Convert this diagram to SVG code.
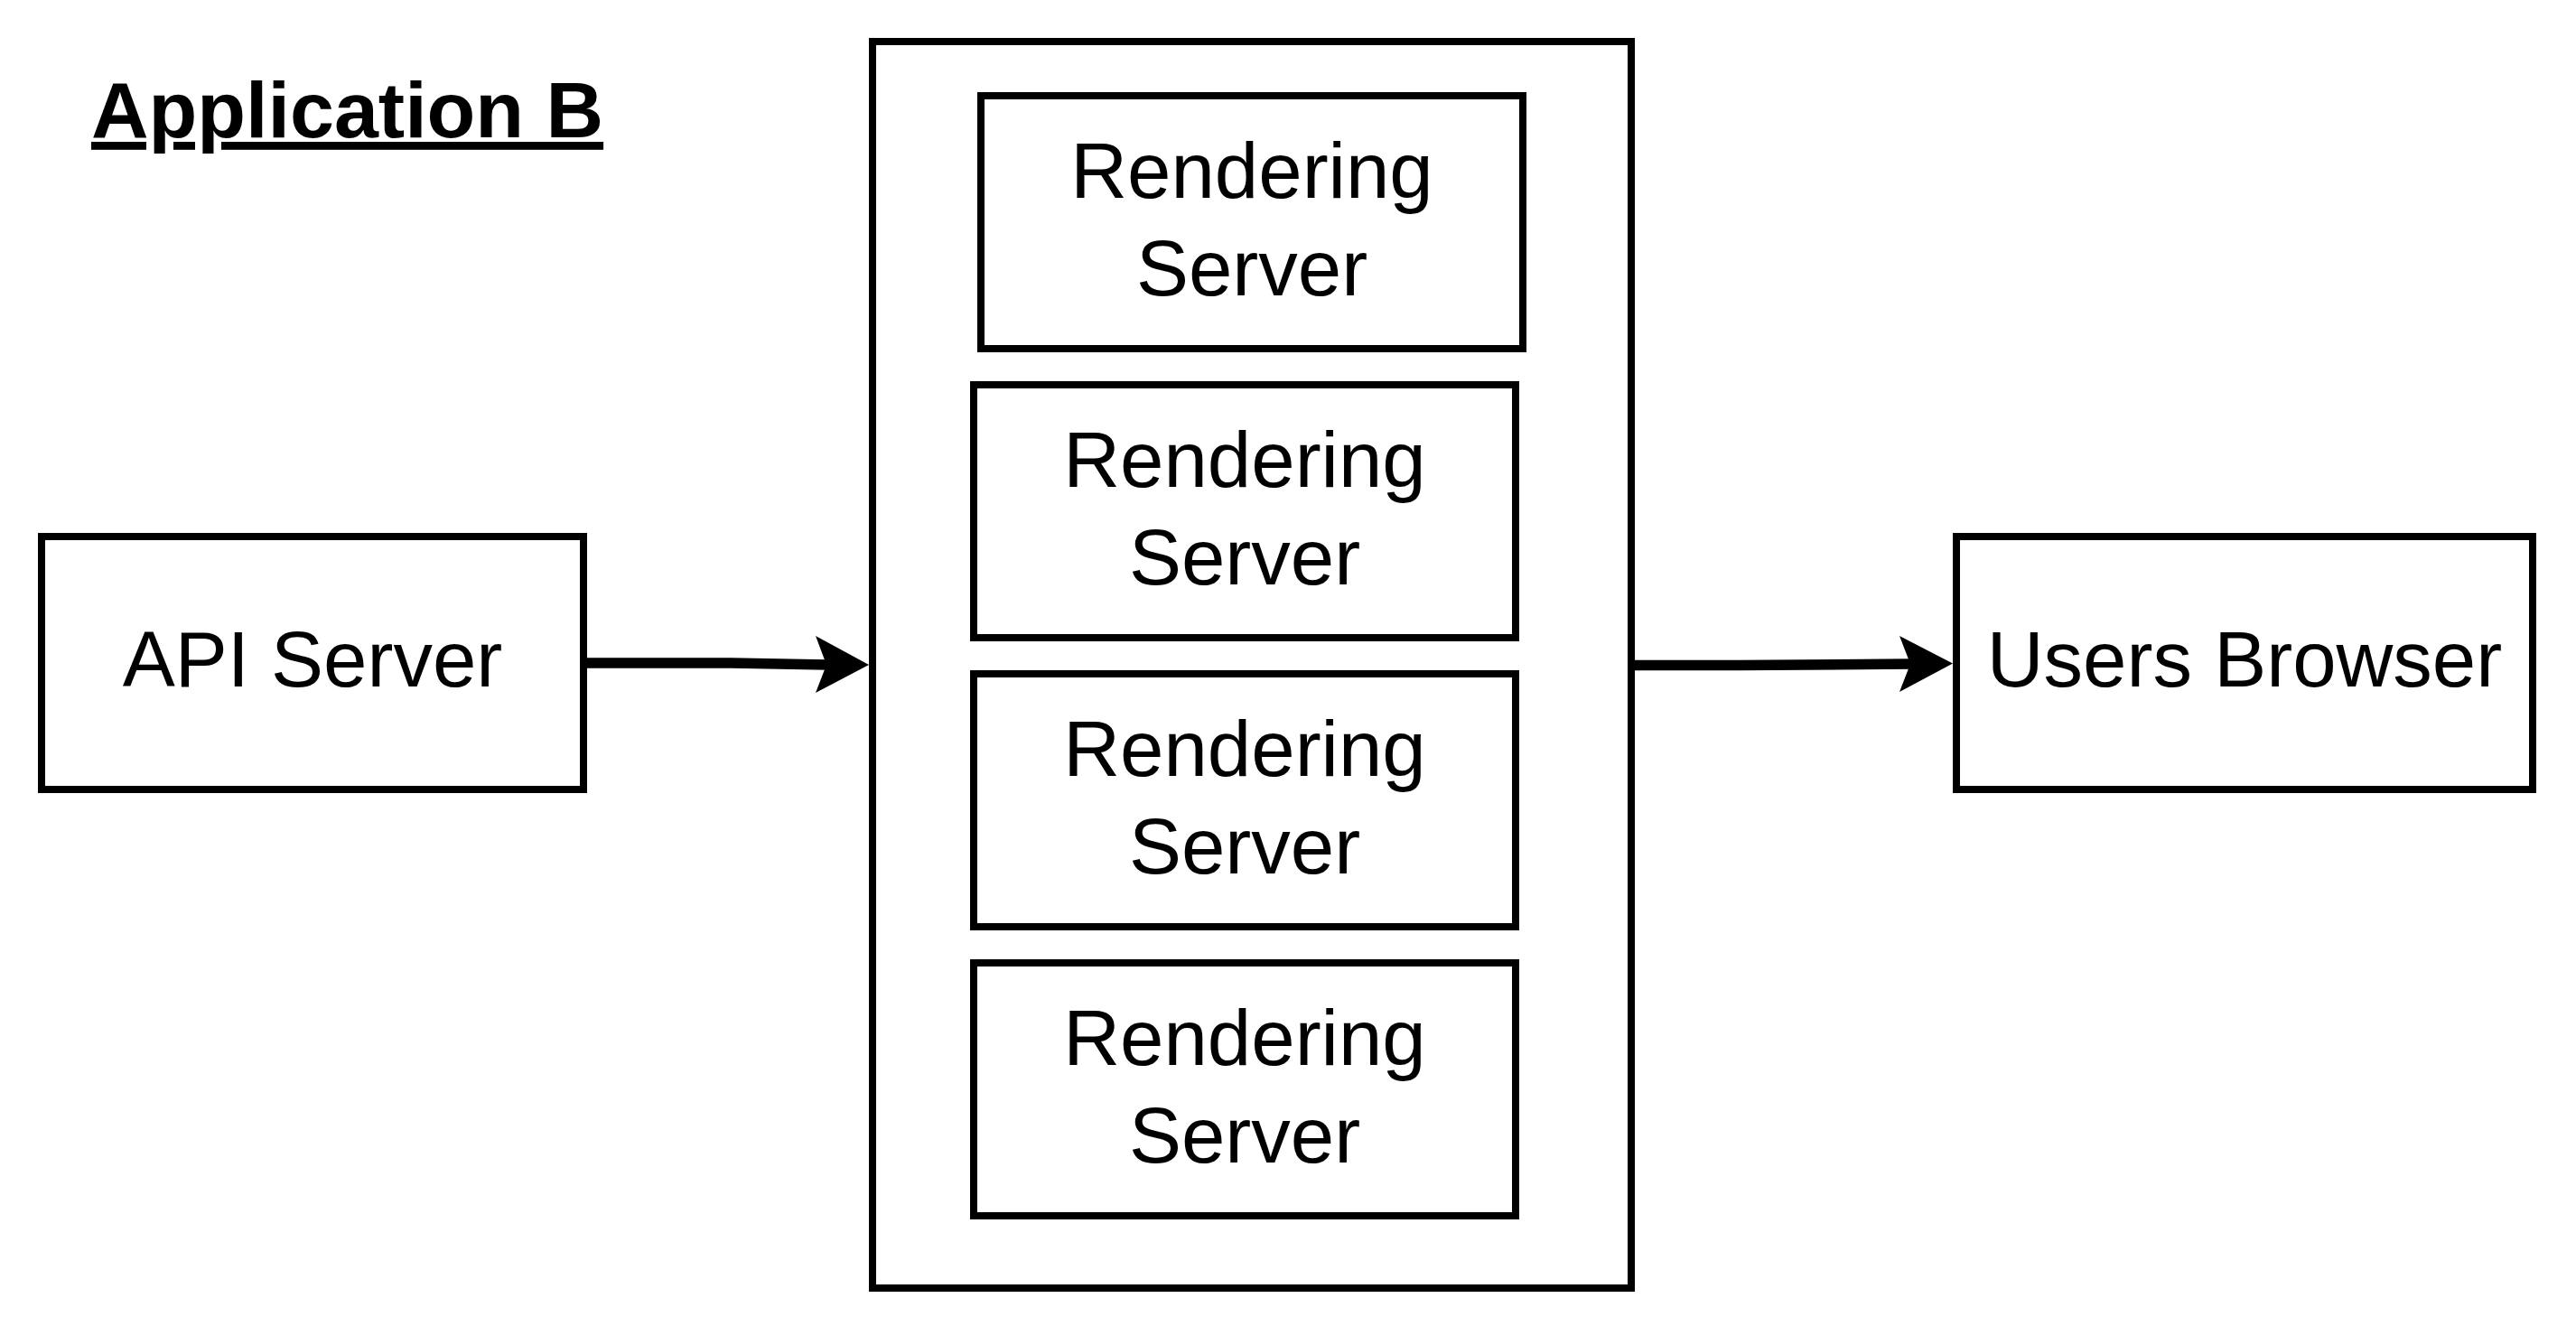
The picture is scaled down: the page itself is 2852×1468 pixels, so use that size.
<svg xmlns="http://www.w3.org/2000/svg" width="2852" height="1468" viewBox="0 0 2852 1468">
  <style>
    .box { fill: #ffffff; stroke: #000000; stroke-width: 8; }
    .lbl { font-family: "Liberation Sans", Arial, sans-serif; font-size: 87px; fill: #000000; text-anchor: middle; }
    .title { font-family: "Liberation Sans", Arial, sans-serif; font-size: 88px; font-weight: bold; fill: #000000; text-decoration: underline; }
    .edge { fill: none; stroke: #000000; stroke-width: 11.5; }
    .head { fill: #000000; stroke: none; }
  </style>
  <rect width="2852" height="1468" fill="#ffffff"/>

  <g id="title">
    <text class="title" x="101" y="152">Application B</text>
  </g>

  <g id="container">
    <rect class="box" x="966" y="46" width="840" height="1380"/>
  </g>

  <g id="render1">
    <rect class="box" x="1086" y="106" width="600" height="280"/>
    <text class="lbl" x="1386" y="219">Rendering</text>
    <text class="lbl" x="1386" y="327">Server</text>
  </g>
  <g id="render2">
    <rect class="box" x="1078" y="426" width="600" height="280"/>
    <text class="lbl" x="1378" y="539">Rendering</text>
    <text class="lbl" x="1378" y="647">Server</text>
  </g>
  <g id="render3">
    <rect class="box" x="1078" y="746" width="600" height="280"/>
    <text class="lbl" x="1378" y="859">Rendering</text>
    <text class="lbl" x="1378" y="967">Server</text>
  </g>
  <g id="render4">
    <rect class="box" x="1078" y="1066" width="600" height="280"/>
    <text class="lbl" x="1378" y="1179">Rendering</text>
    <text class="lbl" x="1378" y="1287">Server</text>
  </g>

  <g id="api">
    <rect class="box" x="46" y="594" width="600" height="280"/>
    <text class="lbl" x="346" y="760">API Server</text>
  </g>

  <g id="browser">
    <rect class="box" x="2166" y="594" width="638" height="280"/>
    <text class="lbl" x="2485" y="760">Users Browser</text>
  </g>

  <g id="connectors">
    <path class="edge" d="M650 734 L810 734 L916 736"/>
    <polygon class="head" points="962,736 903,704 915,736 903,767"/>
    <path class="edge" d="M1810 736.5 L1925 736.5 L2116 735"/>
    <polygon class="head" points="2162,734.5 2103,704 2115,735 2103,766"/>
  </g>
</svg>
